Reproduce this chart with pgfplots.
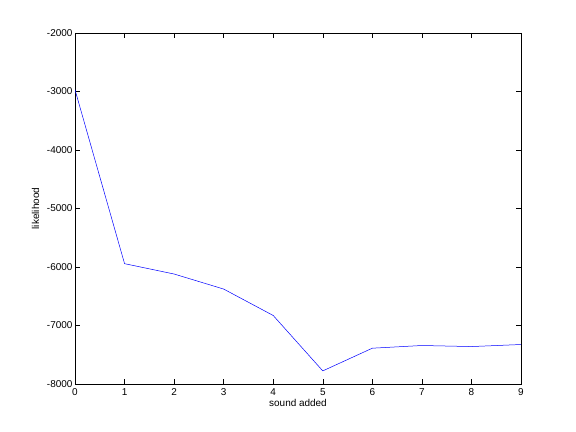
\documentclass[border=0pt]{standalone}
\usepackage{pgfplots}
\pgfplotsset{compat=1.18}
\usepackage{fontspec}
\setmainfont{Liberation Sans}
\begin{document}
\begin{tikzpicture}
\path[fill=white] (0,0) rectangle (576bp,432bp);
\begin{axis}[
  at={(75bp,48bp)}, anchor=south west,
  scale only axis, width=446bp, height=351bp,
  xmin=0, xmax=9, ymin=-8000, ymax=-2000,
  xtick={0,...,9}, ytick={-8000,-7000,...,-2000},
  tick align=inside, major tick length=5bp,
  tick pos=both,
  axis line style={black, line width=0.5pt},
  every tick/.style={black, line width=0.5pt},
  /pgf/number format/assume math mode=true,
  /pgf/number format/1000 sep={},
  tick label style={font=\fontsize{10}{12}\selectfont},
  label style={font=\fontsize{10}{12}\selectfont},
  xticklabel style={yshift=-1bp},
  yticklabel style={xshift=1bp},
  xlabel={sound added}, ylabel={likelihood},
  xlabel style={yshift=3bp},
  ylabel style={yshift=1bp},
]
\addplot[blue, line width=0.5pt, mark=none] coordinates {
(0,-2970) (1,-5943) (2,-6120) (3,-6377) (4,-6829) (5,-7776) (6,-7388) (7,-7342) (8,-7360) (9,-7325)
};
\end{axis}
\end{tikzpicture}
\end{document}
